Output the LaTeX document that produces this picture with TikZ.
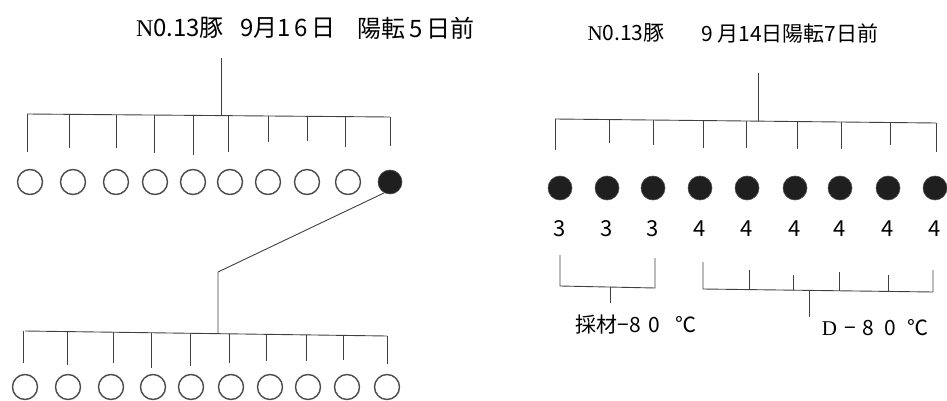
\documentclass[tikz,border=0pt]{standalone}
\usepackage{fontspec}
\setmainfont{Noto Sans CJK JP}
\newfontfamily\serifN{Liberation Serif}
\begin{document}
\begin{tikzpicture}[x=1pt,y=-1pt,
  ln/.style={draw=black!75,line width=0.9pt},
  oc/.style={circle,draw=black!70,line width=1.4pt,minimum size=25pt,inner sep=0pt},
  fc/.style={circle,fill=black!88,draw=black!70,line width=0.6pt,minimum size=24pt,inner sep=0pt},
  ttl/.style={text=black,font=\fontsize{24}{24}\selectfont,inner sep=0pt},
  ttr/.style={text=black,font=\fontsize{21}{21}\selectfont,inner sep=0pt},
  num/.style={text=black,font=\fontsize{22}{22}\selectfont,inner sep=0pt},
  lab/.style={text=black,font=\fontsize{21}{21}\selectfont,inner sep=0pt}]
\useasboundingbox (0,0) rectangle (947,401);

% ---------- left titles ----------
\node[ttl] (lt1) at (180,28) {{\serifN N}0.13豚};
\node[ttl] (lt2) at (288,28) {9月1\,6\,日};
\node[ttl] (lt3) at (416,28) {陽転\,5\,日前};

% left top tree
\coordinate (Ltop) at (221,58);
\coordinate (Lj) at (221,115);
\coordinate (LbarA) at (27,114);
\coordinate (LbarB) at (390,117);
\draw[ln] (Ltop) -- (Lj);
\draw[ln] (LbarA) -- (LbarB);

% left row 1 circles
\foreach \i/\x in {1/30,2/73,3/116,4/155,5/193,6/230,7/268,8/307,9/348}
  \node[oc] (a\i) at (\x,182) {};
\node[fc] (a10) at (390,182) {};

\foreach \x/\yb in {27/152,69/148,116/148,154/153,193/155,228/152,268/142,307/141,345/147,390/146}
  \draw[ln] (\x,{114+(\x-27)*3/363}) -- (\x,\yb);

% connector to lower tree
\coordinate (Lk) at (218,272);
\coordinate (Lj2) at (218,333);
\draw[ln] (a10.-118) -- (Lk) -- (Lj2);
\coordinate (Lbar2A) at (25,331);
\coordinate (Lbar2B) at (387,336);
\draw[ln] (Lbar2A) -- (Lbar2B);
\foreach \x/\yb in {23/363,67/365,113/363,151/368,190/366,229/363,266/361,306/361,343/360,387/364}
  \draw[ln] (\x,{331+(\x-25)*5/362}) -- (\x,\yb);

\foreach \i/\x in {1/25,2/68,3/111,4/153,5/191,6/231,7/270,8/308,9/347,10/387}
  \node[oc] (b\i) at (\x,387) {};

% ---------- right titles ----------
\node[ttr] (rt1) at (626,33) {{\serifN N}0.13豚};
\node[ttr] (rt2) at (790,33) {9 月14日陽転7日前};

\coordinate (Rtop) at (758,73);
\coordinate (Rj) at (758,121);
\coordinate (RbarA) at (555,119);
\coordinate (RbarB) at (936,123);
\draw[ln] (Rtop) -- (Rj);
\draw[ln] (RbarA) -- (RbarB);
\foreach \x/\yb in {555/150,609/143,653/145,703/148,746/148,797/149,841/149,890/145,936/152}
  \draw[ln] (\x,{119+(\x-555)*4/381}) -- (\x,\yb);

\foreach \i/\x/\n in {1/560/3,2/607/3,3/653/3,4/700/4,5/747/4,6/795/4,7/840/4,8/888/4,9/935/4}{
  \node[fc] (c\i) at (\x,188) {};
  \node[num] (n\i) at (\x,229) {\n};
}

% bracket 1
\coordinate (B1a) at (560,255);
\coordinate (B1b) at (560,286);
\coordinate (B1c) at (655,288);
\coordinate (B1d) at (655,258);
\draw[ln] (B1a) -- (B1b) -- (B1c) -- (B1d);
\coordinate (B1s) at (610,287);
\coordinate (B1e) at (610,303);
\draw[ln] (B1s) -- (B1e);
\node[lab] (l1) at (636,325) {採材−8\,\,0\,\,\, ℃};

% bracket 2
\coordinate (B2a) at (703,262);
\coordinate (B2b) at (703,289);
\coordinate (B2c) at (933,292);
\coordinate (B2d) at (933,270);
\draw[ln] (B2a) -- (B2b) -- (B2c) -- (B2d);
\foreach \x/\yt in {749/270,793/275,839/272,888/275}
  \draw[ln] (\x,\yt) -- (\x,{289+(\x-703)*3/230});
\coordinate (B2s) at (809,290);
\coordinate (B2e) at (809,317);
\draw[ln] (B2s) -- (B2e);
\node[lab] (l2) at (875,328) {{\serifN D}\,\,−\,\,8\,\,\,0\,\,\,℃};
\end{tikzpicture}
\end{document}
